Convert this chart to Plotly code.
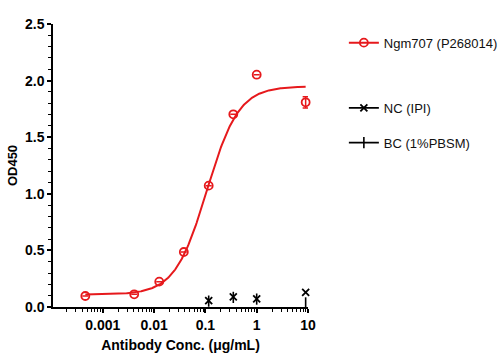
import numpy as np
import plotly.graph_objects as go

# ---- data ----
conc_ngm = [0.000457, 0.0041, 0.0126, 0.038, 0.116, 0.35, 1.0, 9.0]
od_ngm = [0.097, 0.112, 0.224, 0.486, 1.072, 1.702, 2.052, 1.808]
err_ngm = [0, 0, 0, 0, 0, 0, 0, 0.05]

conc_nc = [0.116, 0.35, 1.0, 9.0]
od_nc = [0.056, 0.09, 0.072, 0.13]

conc_bc = [0.116, 0.35, 1.0, 9.0]
od_bc = [0.052, 0.085, 0.07, 0.036]

# 4PL fit parameters (fitted curve of Ngm707)
fit_bottom = 0.11
fit_top = 1.95
fit_ec50 = 0.107
fit_hill = 1.4

x_ticks = [0.001, 0.01, 0.1, 1, 10]
x_ticklabels = ["0.001", "0.01", "0.1", "1", "10"]
y_ticks = [0.0, 0.5, 1.0, 1.5, 2.0, 2.5]

RED = "rgb(230,25,28)"
FONT = "Liberation Sans, Arial, sans-serif"

xfit = np.logspace(np.log10(conc_ngm[0]), np.log10(conc_ngm[-1]), 300)
yfit = fit_bottom + (fit_top - fit_bottom) / (1 + (fit_ec50 / xfit) ** fit_hill)

fig = go.Figure()

fig.add_trace(go.Scatter(x=xfit, y=yfit, mode="lines",
                         line=dict(color=RED, width=2), showlegend=False,
                         hoverinfo="skip"))
fig.add_trace(go.Scatter(x=conc_ngm, y=od_ngm, mode="markers",
                         marker=dict(symbol="circle-open", size=8, color=RED,
                                     line=dict(width=1.8, color=RED)),
                         error_y=dict(type="data", array=err_ngm, color=RED,
                                      thickness=1.5, width=3),
                         showlegend=False, cliponaxis=False))
fig.add_trace(go.Scatter(x=conc_bc, y=od_bc, mode="markers",
                         marker=dict(symbol="line-ns-open", size=8, color="black",
                                     line=dict(width=1.6, color="black")),
                         showlegend=False, cliponaxis=False))
fig.add_trace(go.Scatter(x=conc_nc, y=od_nc, mode="markers",
                         marker=dict(symbol="x-thin-open", size=7, color="black",
                                     line=dict(width=1.8, color="black")),
                         showlegend=False, cliponaxis=False))

# legend entries
fig.add_trace(go.Scatter(x=[None], y=[None], mode="lines+markers",
                         name="Ngm707 (P268014)",
                         line=dict(color=RED, width=2),
                         marker=dict(symbol="circle-open", size=8, color=RED,
                                     line=dict(width=1.8, color=RED)),
                         legend="legend"))
fig.add_trace(go.Scatter(x=[None], y=[None], mode="lines+markers",
                         name="NC (IPI)",
                         line=dict(color="black", width=1.8),
                         marker=dict(symbol="x-thin-open", size=7, color="black",
                                     line=dict(width=1.8, color="black")),
                         legend="legend2"))
fig.add_trace(go.Scatter(x=[None], y=[None], mode="lines+markers",
                         name="BC (1%PBSM)",
                         line=dict(color="black", width=1.8),
                         marker=dict(symbol="line-ns-open", size=8, color="black",
                                     line=dict(width=1.6, color="black")),
                         legend="legend3"))

legend_common = dict(xref="container", yref="container", x=0.685,
                     xanchor="left", yanchor="middle",
                     font=dict(family=FONT, size=13, color="#111"),
                     bgcolor="rgba(0,0,0,0)", borderwidth=0)

fig.update_layout(
    width=502, height=361,
    margin=dict(l=53, r=194, t=24, b=54, autoexpand=False),
    paper_bgcolor="white", plot_bgcolor="white",
    font=dict(family=FONT, color="black"),
    legend=dict(legend_common, y=1 - 42.7 / 361),
    legend2=dict(legend_common, y=1 - 108 / 361),
    legend3=dict(legend_common, y=1 - 142.7 / 361),
    xaxis=dict(
        type="log", range=[-3.97, 1.0], automargin=False,
        tickvals=x_ticks, ticktext=x_ticklabels,
        ticks="outside", ticklen=4, tickwidth=1.5, tickcolor="black",
        showline=True, linewidth=1.5, linecolor="black",
        showgrid=False, zeroline=False,
        tickfont=dict(family=FONT, size=14, color="black", weight="bold"),
        minor=dict(ticks="outside", ticklen=3, tickwidth=1.2, tickcolor="black",
                   dtick="D1", showgrid=False),
        title=dict(text="Antibody Conc. (μg/mL)", standoff=9,
                   font=dict(family=FONT, size=14, color="black", weight="bold")),
    ),
    yaxis=dict(
        range=[0, 2.5], tickvals=y_ticks, tickformat=".1f", automargin=False,
        ticks="outside", ticklen=4, tickwidth=1.5, tickcolor="black",
        showline=True, linewidth=1.5, linecolor="black",
        showgrid=False, zeroline=False,
        tickfont=dict(family=FONT, size=14, color="black", weight="bold"),
        minor=dict(ticks="outside", ticklen=3, tickwidth=1.2, tickcolor="black",
                   dtick=0.1, showgrid=False),
        title=dict(text="OD450", standoff=4,
                   font=dict(family=FONT, size=13, color="black", weight="bold")),
    ),
)

fig.write_html("out.html", config={"displayModeBar": False},
               post_script="document.body.style.margin='0px';")
